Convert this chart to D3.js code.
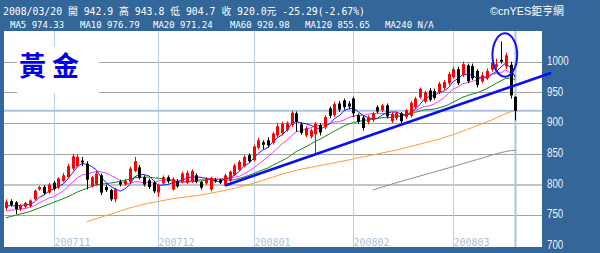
<!DOCTYPE html>
<html><head><meta charset="utf-8">
<script src="https://cdn.jsdelivr.net/npm/d3@7/dist/d3.min.js"></script>
<style>
html,body{margin:0;padding:0;background:#336699;overflow:hidden;}
svg{display:block;}
</style></head><body>
<svg id="c" width="600" height="253"></svg>
<script>
// ---------- DATA ----------
const dates = [
"2007/10/18","2007/10/19","2007/10/22","2007/10/23","2007/10/24","2007/10/25","2007/10/26","2007/10/29","2007/10/30","2007/10/31",
"2007/11/01","2007/11/02","2007/11/05","2007/11/06","2007/11/07","2007/11/08","2007/11/09","2007/11/12","2007/11/13","2007/11/14",
"2007/11/15","2007/11/16","2007/11/19","2007/11/20","2007/11/21","2007/11/22","2007/11/23","2007/11/26","2007/11/27","2007/11/28",
"2007/11/29","2007/11/30","2007/12/03","2007/12/04","2007/12/05","2007/12/06","2007/12/07","2007/12/10","2007/12/11","2007/12/12",
"2007/12/13","2007/12/14","2007/12/17","2007/12/18","2007/12/19","2007/12/20","2007/12/21","2007/12/24","2007/12/26","2007/12/27",
"2007/12/28","2007/12/31","2008/01/02","2008/01/03","2008/01/04","2008/01/07","2008/01/08","2008/01/09","2008/01/10","2008/01/11",
"2008/01/14","2008/01/15","2008/01/16","2008/01/17","2008/01/18","2008/01/22","2008/01/23","2008/01/24","2008/01/25","2008/01/28",
"2008/01/29","2008/01/30","2008/01/31","2008/02/01","2008/02/04","2008/02/05","2008/02/06","2008/02/07","2008/02/08","2008/02/11",
"2008/02/12","2008/02/13","2008/02/14","2008/02/15","2008/02/18","2008/02/19","2008/02/20","2008/02/21","2008/02/22","2008/02/25",
"2008/02/26","2008/02/27","2008/02/28","2008/02/29","2008/03/03","2008/03/04","2008/03/05","2008/03/06","2008/03/07","2008/03/10",
"2008/03/11","2008/03/12","2008/03/13","2008/03/14","2008/03/17","2008/03/18","2008/03/19","2008/03/20"];

const open = [762,773,771,760,764,765,776,792,796,787, 803,795,806,812,826,830,839,834,797,800,
 815,796,791,776,804,800,804,822,828,812, 807,803,787,802,812,792,806,805,803,805,
 815,804,802,792,808,808,799,806,816,824, 830,848,840,860,869,872,868,880,884,889,
 897,916,898,880,878,882,897,893,924,913, 932,937,932,940,913,909,902,905,926,921,
 929,903,908,916,910,912,926,942,935,953, 952,950,957,965,975,988,978,994,993,985,
 968,973,987,992,1003,992,995,942.9];
const high = [776,776,773,768,772,776,792,798,799,803, 806,812,819,834,850,849,845,838,814,822,
 818,800,793,795,808,809,829,845,832,815, 810,806,801,815,815,812,809,821,823,825,
 818,806,812,813,811,810,818,823,834,840, 848,851,865,876,872,877,886,900,902,903,
 920,919,901,895,891,902,900,913,927,935, 936,940,936,943,916,912,913,918,929,931,
 932,918,919,918,923,936,943,958,953,957, 956,967,970,984,992,992,1000,997,997,988,
 983,989,1003,1005,1033,1015,1000,943.8];
const low = [758,764,752,757,762,763,774,790,783,785, 790,793,804,810,823,828,830,792,795,798,
 783,788,773,771,797,798,802,820,808,797, 793,786,780,800,802,790,795,802,801,803,
 802,792,800,789,803,801,797,804,814,822, 828,835,838,857,858,860,865,877,880,886,
 894,886,881,877,875,850,880,890,908,910, 918,922,922,910,899,888,898,902,916,918,
 908,900,905,900,907,909,923,940,932,935, 938,947,954,962,972,962,975,965,970,958,
 965,970,984,988,997,988,940,904.7];
const close = [772,767,760,766,770,774,790,796,786,800, 793,810,815,830,846,845,836,808,812,818,
 787,791,776,792,800,806,826,838,811,800, 796,789,799,812,805,809,797,818,819,822,
 805,795,810,811,806,803,815,821,831,837, 845,838,862,872,865,864,883,895,899,900,
 917,902,884,892,888,899,885,910,912,931, 922,926,927,916,902,892,910,916,919,929,
 911,915,916,903,921,933,940,956,950,938, 941,964,967,980,988,965,996,968,973,962,
 978,985,998.3,996,1000,1010.35,945.29,920];

const ma5 = [765,766,765,766,767,767.4,772,779.2,783.2,789.2, 793,797,800.8,809.6,818.8,829.2,834.4,833,829.4,823.8,
 812.2,803.2,796.8,792.8,789.2,793,800,812.4,816.2,816.2, 814.2,806.8,799,799.2,800.2,802.8,804.4,808.2,809.6,813,
 812.2,811.8,810.2,808.6,805.4,805,809,811.2,815.2,821.4, 829.8,834.4,842.6,850.8,856.4,860.2,869.2,875.8,881.2,888.2,
 898.8,902.6,900.4,899,896.6,893,889.6,894.8,898.8,907.4, 912,920.2,923.6,924.4,918.6,912.6,909.4,907.2,907.8,913.2,
 917,918,918,914.8,913.2,917.6,922.6,930.6,940,943.4, 945,949.8,952,958,968,972.8,979.2,979.4,978,972.8,
 975.4,973.2,979.3,983.9,991.5,997.9,990,974.33];
const ma10 = [757,758,759,760,761,763,766,770,774,778.1, 780.2,784.5,790,796.4,804,811.1,815.7,816.9,819.5,821.3,
 820.7,818.8,814.9,811.1,806.5,802.6,801.6,804.6,804.5,802.7, 803.6,803.4,805.7,807.7,808.2,808.5,805.6,803.6,804.4,806.6,
 807.5,808.1,809.2,809.1,809.2,808.6,810.4,810.7,811.9,813.4, 817.4,821.7,826.9,833,838.9,845,851.8,859.2,866,872.3,
 879.5,885.9,888.1,890.1,892.4,895.9,896.1,897.6,898.9,902, 902.5,904.9,909.2,911.6,913,912.3,914.8,915.4,916.1,915.9,
 914.8,913.7,912.6,911.3,913.2,917.3,920.3,924.3,927.4,928.3, 931.3,936.2,941.3,949,955.7,958.9,964.5,965.7,968,970.4,
 974.1,976.2,979.3,980.9,982.1,986.7,981.6,976.79];
const ma20 = [746,748,750,752,754,756,759,762,765,768, 771,774,777,780,784,788,791,794,797,799.7,
 800.5,801.7,802.5,803.8,805.3,806.9,808.7,810.8,812,812, 812.2,811.1,810.3,809.4,807.4,805.6,803.6,804.1,804.5,804.7,
 805.6,805.8,807.5,808.4,808.7,808.6,808,807.2,808.2,810, 812.5,814.9,818.1,821.1,824.1,826.8,831.1,835,839,842.9,
 848.5,853.8,857.5,861.6,865.7,870.5,874,878.4,882.5,887.2, 891,895.4,898.7,900.9,902.7,904.1,905.5,906.5,907.5,909,
 908.7,909.3,910.9,911.5,913.1,914.8,917.6,919.9,921.8,922.1, 923.1,925,927,930.2,934.5,938.1,942.4,945,947.7,949.4,
 952.7,956.2,960.3,965,968.9,972.8,973.1,971.24];
const ma60Start = 17;
const ma60 = [739.5,742,744.5,747,749.5,752,754.5,757,759.5,762, 764,766,768,769.5,771,772.5,774,775.5,777,778,
 779,780,781,782,783,784.5,786,787.5,789,790.5, 792,794,796,798,800,802,804.5,807,809.5,812,
 814.5,817,819,821,823,825,826.5,828,829.5,831, 832.5,834,835.5,837,838.5,840,842,843.5,845,846.5,
 848,850,851.5,853,854.5,856,858,860,862,864, 866,868,870,872,874,876.5,879,881.5,884,887,
 890,893,896,899,902,905,908.5,912,915.5,918.5,920.98];
const ma120Start = 77;
const ma120 = [791,793.4,795.8,798.2,800.6,803,805.2,807.4,809.6,811.8, 814,816.2,818.4,820.6,822.8,825,827.2,829.4,831.7,834,
 836.3,838.6,840.9,843.2,845.5,847.8,850,852,853.8,855.2,855.65];

const yTicks = [700,750,800,850,900,950,1000];
const gridTicks = [750,800,850,900,950,1000];
const trendLine = [[46.2, 799], [114.3, 981.1]];      // hand-drawn support line (index, price)
const ringIdx = [102.2, 107.4], ringPrice = [975.6, 1046.2]; // hand-drawn ellipse
const headerLine1 = "2008/03/20 開 942.9 高 943.8 低 904.7 收 920.0元 -25.29(-2.67%)";
const maLabels = ["MA5 974.33","MA10 976.79","MA20 971.24","MA60 920.98","MA120 855.65","MA240 N/A"];
const brand = "©cnYES鉅亨網";
const title = "黃金";

// ---------- LAYOUT ----------
const svg = d3.select("#c");
const P = {l:4, r:542, t:31, b:247};
const n = close.length;
const x = d3.scaleLinear().domain([0, n-1]).range([6, 515.3]);
const y = d3.scaleLinear().domain([700, 1050]).range([246, 31]);
const frame = "#336699", lightBlue = "#aac5df";

svg.append("rect").attr("width",600).attr("height",253).attr("fill",frame);
svg.append("rect").attr("x",P.l).attr("y",P.t).attr("width",P.r-P.l).attr("height",P.b-P.t).attr("fill","#fff");

// horizontal grid
svg.append("g").selectAll("line").data(gridTicks).join("line")
  .attr("x1",P.l).attr("x2",P.r)
  .attr("y1",d=>d===800?Math.round(y(d)):Math.round(y(d))+0.5)
  .attr("y2",d=>d===800?Math.round(y(d)):Math.round(y(d))+0.5)
  .attr("stroke",d=>d===800?"#c4c4c4":"#a4a4a4")
  .attr("stroke-width",d=>d===800?2:1);

// month lines + labels
const monthIdx = [];
for (let i=1;i<n;i++) if (dates[i].slice(0,7)!==dates[i-1].slice(0,7)) monthIdx.push(i);
const gM = svg.append("g");
gM.selectAll("line").data(monthIdx).join("line")
  .attr("x1",i=>Math.round(x(i))+0.5).attr("x2",i=>Math.round(x(i))+0.5)
  .attr("y1",P.t).attr("y2",P.b).attr("stroke","#b9d0e6").attr("stroke-width",1);
gM.selectAll("text").data(monthIdx).join("text")
  .attr("x",i=>Math.round(x(i))+0.5).attr("y",245.5)
  .attr("font-family","DejaVu Sans Mono, monospace").attr("font-size",10)
  .attr("fill","#a7bfd7")
  .text(i=>dates[i].slice(0,4)+dates[i].slice(5,7));

// last-close crosshair
const last = n-1;
svg.append("line").attr("x1",P.l).attr("x2",P.r)
  .attr("y1",y(close[last])).attr("y2",y(close[last]))
  .attr("stroke",lightBlue).attr("stroke-width",2);
svg.append("line").attr("x1",Math.round(x(last))+0.5).attr("x2",Math.round(x(last))+0.5)
  .attr("y1",P.t).attr("y2",P.b).attr("stroke",lightBlue).attr("stroke-width",2);

// title box
svg.append("rect").attr("x",17).attr("y",47).attr("width",82).attr("height",46).attr("fill","#fff");
svg.append("text").attr("x",19).attr("y",76).text(title)
  .attr("font-family","Noto Sans CJK TC, Noto Sans CJK SC, sans-serif")
  .attr("font-weight",700).attr("font-size",27).attr("letter-spacing",6).attr("fill","#0000ee");

// MA lines
const clip = svg.append("clipPath").attr("id","pc").append("rect")
  .attr("x",P.l).attr("y",P.t).attr("width",P.r-P.l).attr("height",P.b-P.t);
const gL = svg.append("g").attr("clip-path","url(#pc)");
const line = d3.line().x(d=>x(d[0])).y(d=>y(d[1]));
const series = [
  {v:ma120, s:ma120Start, c:"#8c8c8c"},
  {v:ma60, s:ma60Start, c:"#ff9a33"},
  {v:ma20, s:0, c:"#118811"},
  {v:ma10, s:0, c:"#ff33ff"},
  {v:ma5, s:0, c:"#1a1aff"}
];
series.forEach(sr=>{
  gL.append("path").attr("d",line(sr.v.map((v,k)=>[k+sr.s,v])))
    .attr("fill","none").attr("stroke",sr.c).attr("stroke-width",1);
});

// candles
const gC = svg.append("g");
d3.range(n).forEach(i=>{
  const up = close[i] >= open[i];
  const col = up ? "#ff0000" : "#000000";
  const cx = Math.round(x(i));
  gC.append("line").attr("x1",cx+0.5).attr("x2",cx+0.5)
    .attr("y1",y(high[i])).attr("y2",y(low[i])).attr("stroke",col).attr("stroke-width",1);
  const top = y(Math.max(open[i],close[i])), bot = y(Math.min(open[i],close[i]));
  gC.append("rect").attr("x",cx-1).attr("width",3)
    .attr("y",top).attr("height",Math.max(1,bot-top)).attr("fill",col);
});

// trend line
svg.append("path").attr("d",line(trendLine))
  .attr("stroke","#0a0aff").attr("stroke-width",2.6).attr("fill","none").attr("stroke-linecap","round");

// ring annotation
svg.append("ellipse")
  .attr("cx",(x(ringIdx[0])+x(ringIdx[1]))/2).attr("cy",(y(ringPrice[0])+y(ringPrice[1]))/2)
  .attr("rx",(x(ringIdx[1])-x(ringIdx[0]))/2).attr("ry",(y(ringPrice[0])-y(ringPrice[1]))/2)
  .attr("fill","none").attr("stroke","#1010ff").attr("stroke-width",2);

// y axis labels
const ax = svg.append("g").attr("transform",`translate(${P.r},0)`)
  .call(d3.axisRight(y).tickValues(yTicks).tickSize(0).tickPadding(5).tickFormat(d3.format("d")));
ax.select(".domain").remove();
ax.selectAll("text")
  .attr("font-family","Liberation Sans, Arial, sans-serif").attr("font-size",12)
  .attr("fill","#eef3fa").attr("dy","0.22em")
  .attr("textLength",d=>String(d).length*5.4).attr("lengthAdjust","spacingAndGlyphs");

// header
svg.append("text").attr("x",3).attr("y",15).text(headerLine1)
  .attr("font-family","DejaVu Sans Mono, Noto Sans CJK TC, monospace").attr("font-size",10.5)
  .attr("fill","#fff").attr("textLength",362).attr("lengthAdjust","spacingAndGlyphs");
const maX = [10,80,153,230,305,385];
svg.append("g").selectAll("text").data(maLabels).join("text")
  .attr("x",(d,k)=>maX[k]).attr("y",27.5).text(d=>d)
  .attr("font-family","DejaVu Sans Mono, monospace").attr("font-size",9)
  .attr("fill","#fff");
svg.append("text").attr("x",490).attr("y",15).text(brand)
  .attr("font-family","Liberation Sans, Noto Sans CJK TC, sans-serif").attr("font-size",11.5)
  .attr("fill","#fff").attr("textLength",74).attr("lengthAdjust","spacingAndGlyphs");
</script>
</body></html>
